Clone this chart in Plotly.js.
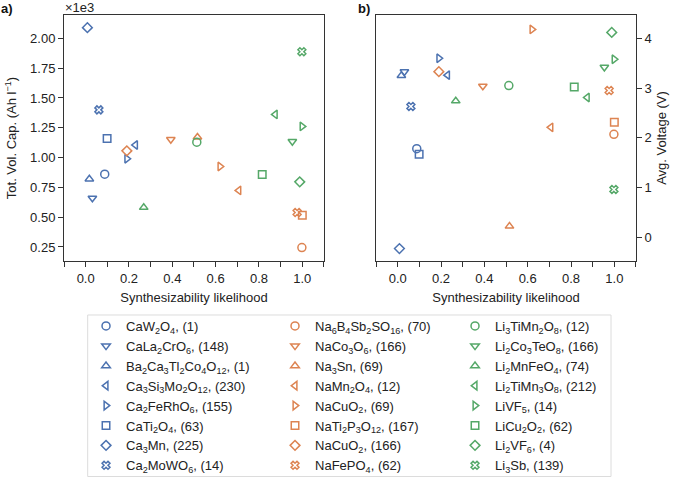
<!DOCTYPE html>
<html>
<head>
<meta charset="utf-8">
<script src="https://cdn.plot.ly/plotly-3.0.1.min.js"></script>
<style>html,body{margin:0;padding:0;background:#fff;}#chart{width:685px;height:478px;}</style>
</head>
<body>
<div id="chart"></div>
<script>
// ---- data ----
const symbols = ['circle-open','triangle-down-open','triangle-up-open','triangle-left-open','triangle-right-open','square-open','diamond-open','x-open'];

const caNames = ['CaW<sub>2</sub>O<sub>4</sub>, (1)', 'CaLa<sub>2</sub>CrO<sub>6</sub>, (148)', 'Ba<sub>2</sub>Ca<sub>3</sub>Tl<sub>2</sub>Co<sub>4</sub>O<sub>12</sub>, (1)', 'Ca<sub>3</sub>Si<sub>3</sub>Mo<sub>2</sub>O<sub>12</sub>, (230)', 'Ca<sub>2</sub>FeRhO<sub>6</sub>, (155)', 'CaTi<sub>2</sub>O<sub>4</sub>, (63)', 'Ca<sub>3</sub>Mn, (225)', 'Ca<sub>2</sub>MoWO<sub>6</sub>, (14)'];
const caSynth = [0.088, 0.031, 0.017, 0.23, 0.19, 0.099, 0.008, 0.061];
const caCap = [0.86, 0.66, 0.82, 1.105, 0.99, 1.16, 2.09, 1.40];
const caVolt = [1.78, 3.33, 3.25, 3.26, 3.60, 1.67, -0.23, 2.63];

const naNames = ['Na<sub>6</sub>B<sub>4</sub>Sb<sub>2</sub>SO<sub>16</sub>, (70)', 'NaCo<sub>3</sub>O<sub>6</sub>, (166)', 'Na<sub>3</sub>Sn, (69)', 'NaMn<sub>2</sub>O<sub>4</sub>, (12)', 'NaCuO<sub>2</sub>, (69)', 'NaTi<sub>2</sub>P<sub>3</sub>O<sub>12</sub>, (167)', 'NaCuO<sub>2</sub>, (166)', 'NaFePO<sub>4</sub>, (62)'];
const naSynth = [0.998, 0.393, 0.516, 0.707, 0.62, 1.0, 0.19, 0.976];
const naCap = [0.245, 1.152, 1.171, 0.724, 0.925, 0.516, 1.056, 0.539];
const naVolt = [2.07, 3.04, 0.22, 2.21, 4.18, 2.31, 3.33, 2.95];

const liNames = ['Li<sub>3</sub>TiMn<sub>2</sub>O<sub>8</sub>, (12)', 'Li<sub>2</sub>Co<sub>3</sub>TeO<sub>8</sub>, (166)', 'Li<sub>2</sub>MnFeO<sub>4</sub>, (74)', 'Li<sub>2</sub>TiMn<sub>3</sub>O<sub>8</sub>, (212)', 'LiVF<sub>5</sub>, (14)', 'LiCu<sub>2</sub>O<sub>2</sub>, (62)', 'Li<sub>2</sub>VF<sub>6</sub>, (4)', 'Li<sub>3</sub>Sb, (139)'];
const liSynth = [0.513, 0.954, 0.268, 0.875, 0.999, 0.815, 0.988, 0.998];
const liCap = [1.129, 1.135, 0.581, 1.362, 1.261, 0.858, 0.796, 1.888];
const liVolt = [3.05, 3.42, 2.74, 2.81, 3.58, 3.02, 4.12, 0.96];

const groups = [
  {names: caNames, synth: caSynth, cap: caCap, volt: caVolt, color: '#4C72B0', legend: 'legend'},
  {names: naNames, synth: naSynth, cap: naCap, volt: naVolt, color: '#DD8452', legend: 'legend2'},
  {names: liNames, synth: liSynth, cap: liCap, volt: liVolt, color: '#55A868', legend: 'legend3'}
];

function markerSize(sym) {
  if (sym.indexOf('triangle') === 0) return 7.5;
  if (sym === 'x-open') return 7;
  if (sym === 'diamond-open') return 7.5;
  if (sym === 'square-open') return 7.5;
  return 8;
}

const traces = [];
groups.forEach(g => {
  g.names.forEach((nm, i) => {
    const mk = {symbol: symbols[i], size: markerSize(symbols[i]), color: g.color, line: {width: 1.5, color: g.color}};
    traces.push({type: 'scatter', mode: 'markers', x: [g.synth[i]], y: [g.cap[i]], xaxis: 'x', yaxis: 'y',
      name: nm, legend: g.legend, marker: mk, showlegend: true, cliponaxis: false});
    traces.push({type: 'scatter', mode: 'markers', x: [g.synth[i]], y: [g.volt[i]], xaxis: 'x2', yaxis: 'y2',
      name: nm, legend: g.legend, marker: mk, showlegend: false, cliponaxis: false});
  });
});

const FONT = 'Liberation Sans, Arial, Helvetica, sans-serif';
const axisCommon = {showline: true, mirror: true, linecolor: '#333', linewidth: 1, ticks: 'outside', ticklen: 5,
  tickcolor: '#333', tickwidth: 1, showgrid: false, zeroline: false, tickfont: {size: 13, color: '#222'}};
const xCommon = Object.assign({}, axisCommon, {range: [-0.1, 1.1], tickvals: [0, 0.2, 0.4, 0.6, 0.8, 1.0],
  ticktext: ['0.0','0.2','0.4','0.6','0.8','1.0'],
  minor: {tickvals: [-0.1, 0.1, 0.3, 0.5, 0.7, 0.9, 1.1], ticks: 'outside', ticklen: 5, tickcolor: '#333'},
  title: {text: 'Synthesizability likelihood', font: {size: 13, color: '#222'}, standoff: 8}});

const legBase = {orientation: 'v', yanchor: 'top', xanchor: 'left', y: -0.2033, bgcolor: 'rgba(0,0,0,0)',
  borderwidth: 0, font: {size: 13, color: '#222', family: FONT}, itemclick: false, tracegroupgap: 0};

const layout = {
  width: 685, height: 478,
  margin: {l: 64, r: 49, t: 15, b: 217, autoexpand: false},
  paper_bgcolor: '#fff', plot_bgcolor: '#fff',
  font: {family: FONT, size: 13, color: '#222'},
  xaxis: Object.assign({}, xCommon, {domain: [0, 0.4545], anchor: 'y'}),
  xaxis2: Object.assign({}, xCommon, {domain: [0.5455, 1], anchor: 'y2'}),
  yaxis: Object.assign({}, axisCommon, {anchor: 'x', range: [0.132, 2.196], dtick: 0.25, tick0: 0, tickformat: '.2f',
    title: {text: 'Tot. Vol. Cap. (Ah l<sup>−1</sup>)', font: {size: 13, color: '#222'}, standoff: 10}}),
  yaxis2: Object.assign({}, axisCommon, {anchor: 'x2', side: 'right', range: [-0.48, 4.47], dtick: 1, tick0: 0,
    title: {text: 'Avg. Voltage (V)', font: {size: 13, color: '#222'}, standoff: 6}}),
  legend: Object.assign({}, legBase, {x: 0.0385}),
  legend2: Object.assign({}, legBase, {x: 0.3689}),
  legend3: Object.assign({}, legBase, {x: 0.6836}),
  shapes: [{type: 'rect', xref: 'paper', yref: 'paper', x0: 0.0414, x1: 0.9563, y0: -0.876, y1: -0.2195,
    line: {color: '#dcdcdc', width: 1}, fillcolor: 'rgba(0,0,0,0)', layer: 'below'}],
  annotations: [
    {text: '×1e3', xref: 'paper', yref: 'paper', x: 0, y: 1, xanchor: 'left', yanchor: 'bottom', showarrow: false,
      font: {size: 13, color: '#222'}, borderpad: 0, yshift: -1},
    {text: '<b>a)</b>', xref: 'paper', yref: 'paper', x: -0.112, y: 1, xanchor: 'left', yanchor: 'middle', showarrow: false,
      font: {size: 13, color: '#111'}, borderpad: 0, yshift: 7},
    {text: '<b>b)</b>', xref: 'paper', yref: 'paper', x: 0.513, y: 1, xanchor: 'left', yanchor: 'middle', showarrow: false,
      font: {size: 13, color: '#111'}, borderpad: 0, yshift: 7}
  ]
};

Plotly.newPlot('chart', traces, layout, {displayModeBar: false, staticPlot: true});
</script>
</body>
</html>
